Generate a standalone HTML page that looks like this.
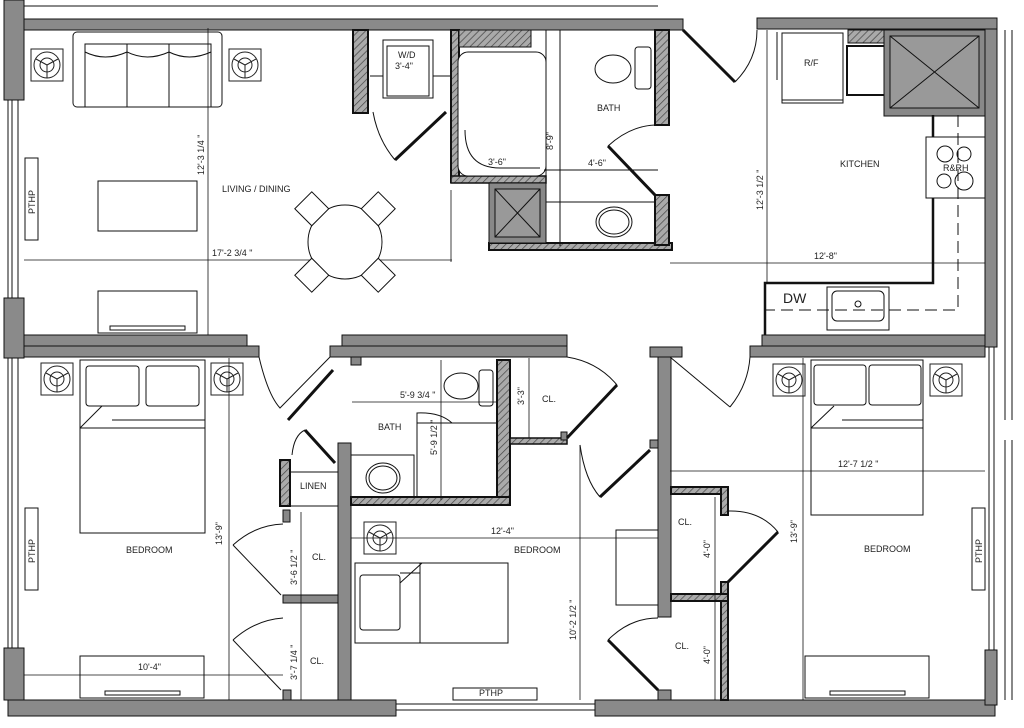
<!DOCTYPE html>
<html><head><meta charset="utf-8"><style>
html,body{margin:0;padding:0;background:#fff}
svg{display:block}
text{font-family:"Liberation Sans",sans-serif;font-size:9px;fill:#222}
</style></head><body>
<svg width="1024" height="728" viewBox="0 0 1024 728" xmlns="http://www.w3.org/2000/svg">
<defs>
<pattern id="h" width="5" height="5" patternUnits="userSpaceOnUse" patternTransform="rotate(45)">
<rect width="5" height="5" fill="#aaa"/><line x1="0" y1="0" x2="0" y2="5" stroke="#444" stroke-width="1.4"/></pattern>
<g id="ns"><rect x="-16" y="-16" width="32" height="32" fill="#fff" stroke="#222" stroke-width="1"/><circle r="13" fill="none" stroke="#222"/><circle r="7" fill="none" stroke="#222"/><path d="M0 0V13M0 0L-11 -6M0 0L11 -6" stroke="#222" fill="none"/></g>
</defs>
<g stroke="#111" stroke-width="1" fill="none">
<!-- thin lines above -->
<line x1="24" y1="6" x2="658" y2="6"/>
<!-- top walls -->
<rect x="24" y="19" width="659" height="11" fill="#8a8a8a"/>
<rect x="757" y="18" width="240" height="11" fill="#8a8a8a"/>
<!-- left wall -->
<rect x="4" y="0" width="20" height="100" fill="#8a8a8a"/>
<rect x="4" y="298" width="20" height="60" fill="#8a8a8a"/>
<line x1="8" y1="100" x2="8" y2="298"/><line x1="12" y1="100" x2="12" y2="298"/><line x1="18" y1="100" x2="18" y2="298"/>
<line x1="8" y1="358" x2="8" y2="648"/><line x1="12" y1="358" x2="12" y2="648"/><line x1="18" y1="358" x2="18" y2="648"/>
<rect x="4" y="648" width="20" height="52" fill="#8a8a8a"/>
<!-- bottom walls -->
<rect x="8" y="700" width="388" height="16" fill="#8a8a8a"/>
<rect x="595" y="700" width="400" height="16" fill="#8a8a8a"/>
<line x1="396" y1="704" x2="595" y2="704"/><line x1="396" y1="710" x2="595" y2="710"/>
<!-- right wall -->
<rect x="985" y="29" width="12" height="318" fill="#8a8a8a"/>
<rect x="985" y="650" width="12" height="55" fill="#8a8a8a"/>
<line x1="989" y1="347" x2="989" y2="650"/><line x1="994" y1="347" x2="994" y2="650"/>
<line x1="1005" y1="30" x2="1005" y2="420"/><line x1="1012" y1="30" x2="1012" y2="420"/>
<line x1="1005" y1="440" x2="1005" y2="700"/><line x1="1012" y1="440" x2="1012" y2="700"/>
<!-- middle horizontal walls -->
<rect x="24" y="335" width="223" height="11" fill="#8a8a8a"/>
<rect x="24" y="346" width="235" height="11" fill="#8a8a8a"/>
<rect x="342" y="335" width="225" height="11" fill="#8a8a8a"/>
<rect x="330" y="346" width="237" height="11" fill="#8a8a8a"/>
<rect x="762" y="335" width="223" height="11" fill="#8a8a8a"/>
<rect x="750" y="346" width="235" height="11" fill="#8a8a8a"/>
<rect x="650" y="347" width="32" height="10" fill="#8a8a8a"/>
<!-- vertical interior walls -->
<rect x="338" y="443" width="13" height="257" fill="#8a8a8a"/>
<rect x="658" y="357" width="13" height="260" fill="#8a8a8a"/>
<rect x="658" y="690" width="13" height="10" fill="#8a8a8a"/>
<!-- bath1 hatched walls -->
<rect x="353" y="30" width="15" height="83" fill="url(#h)" stroke-width="2"/>
<rect x="451" y="30" width="8" height="152" fill="url(#h)" stroke-width="2"/>
<rect x="459" y="30" width="72" height="17" fill="url(#h)"/>
<rect x="451" y="176" width="95" height="7" fill="url(#h)" stroke-width="1.5"/>
<rect x="489" y="243" width="183" height="7" fill="url(#h)" stroke-width="2"/>
<rect x="655" y="30" width="14" height="95" fill="url(#h)" stroke-width="2"/>
<rect x="655" y="195" width="14" height="50" fill="url(#h)" stroke-width="2"/>
<rect x="489" y="183" width="57" height="60" fill="#888"/><rect x="495" y="189" width="45" height="48" fill="#999"/>
<path d="M495 189L540 237M540 189L495 237"/>
<line x1="546" y1="30" x2="546" y2="243"/>
<rect x="458" y="52" width="88" height="124" rx="10" fill="#fff"/>
<path d="M465 130Q465 168 500 168H540" />
<ellipse cx="613" cy="69" rx="18" ry="14" fill="#fff"/><rect x="635" y="47" width="16" height="42" rx="3"/>
<ellipse cx="614" cy="222" rx="18" ry="15"/><ellipse cx="614" cy="222" rx="15" ry="12"/>
<line x1="546" y1="202" x2="655" y2="202"/>
<line x1="370" y1="76" x2="451" y2="76"/>
<rect x="383" y="40" width="50" height="58" fill="#fff"/><rect x="387" y="46" width="42" height="50"/>
<path d="M395 160L446 112" stroke-width="3"/><path d="M373 112Q378 140 395 160"/>
<path d="M608 146L655 195" stroke-width="3"/><path d="M608 146Q630 126 655 125"/>
<line x1="544" y1="170" x2="658" y2="170"/><line x1="560" y1="30" x2="560" y2="246"/>
<!-- living furniture -->
<use href="#ns" x="47" y="65"/><use href="#ns" x="245" y="65"/>
<rect x="73" y="32" width="149" height="75" rx="4" fill="#fff"/>
<rect x="85" y="44" width="126" height="63"/><line x1="127" y1="44" x2="127" y2="107"/><line x1="169" y1="44" x2="169" y2="107"/>
<path d="M85 52q20 10 42 0q20 10 42 0q20 10 42 0"/>
<rect x="98" y="181" width="99" height="50"/>
<rect x="98" y="291" width="99" height="42"/><rect x="110" y="326" width="75" height="4"/>
<rect x="25" y="158" width="13" height="82" fill="#fff"/>
<line x1="208" y1="28" x2="208" y2="335" stroke-width=".8"/>
<line x1="24" y1="260" x2="452" y2="260" stroke-width=".8"/>
<line x1="451" y1="190" x2="451" y2="262" stroke-width=".8"/>
<circle cx="345" cy="242" r="37" fill="#fff"/>
<g transform="translate(345,242)">
<rect x="-12" y="-12" width="24" height="24" transform="rotate(45) translate(-47,0)" fill="#fff"/>
<rect x="-12" y="-12" width="24" height="24" transform="rotate(135) translate(-47,0)" fill="#fff"/>
<rect x="-12" y="-12" width="24" height="24" transform="rotate(225) translate(-47,0)" fill="#fff"/>
<rect x="-12" y="-12" width="24" height="24" transform="rotate(315) translate(-47,0)" fill="#fff"/>
</g>
<!-- entry door -->
<path d="M683 30L735 82" stroke-width="3"/><path d="M735 82Q757 60 757 30"/>
<!-- kitchen -->
<rect x="782" y="33" width="61" height="70"/><line x1="782" y1="100" x2="843" y2="100"/><line x1="777" y1="32" x2="777" y2="80"/>
<rect x="848" y="30" width="37" height="13" fill="url(#h)"/><rect x="847" y="46" width="38" height="49" stroke-width="2"/>
<rect x="884" y="30" width="101" height="86" fill="#888"/><rect x="890" y="36" width="89" height="72" fill="#999"/>
<path d="M890 36L979 108M979 36L890 108"/>
<path d="M933 115V283H765V335" stroke-width="2.5"/>
<rect x="926" y="137" width="59" height="61" fill="#fff"/>
<circle cx="945" cy="154" r="8"/><circle cx="964" cy="154" r="7"/><circle cx="944" cy="181" r="7"/><circle cx="964" cy="181" r="9"/>
<path d="M958 115V310H765" stroke-dasharray="12 6"/>
<rect x="827" y="287" width="62" height="43"/><rect x="832" y="291" width="52" height="30" rx="5"/>
<circle cx="858" cy="304" r="3"/>
<line x1="767" y1="30" x2="767" y2="283" stroke-width=".8"/>
<line x1="670" y1="263" x2="985" y2="263" stroke-width=".8"/>
<!-- bedroom 1 -->
<use href="#ns" x="57" y="379"/><use href="#ns" x="227" y="379"/>
<rect x="80" y="360" width="125" height="173"/><line x1="80" y1="428" x2="205" y2="428"/>
<rect x="86" y="366" width="53" height="40" rx="3" fill="#fff"/><rect x="146" y="366" width="53" height="40" rx="3" fill="#fff"/>
<line x1="112" y1="420" x2="205" y2="420"/><path d="M80 428L102 406"/>
<rect x="80" y="656" width="124" height="42"/><rect x="105" y="691" width="75" height="4"/>
<rect x="25" y="508" width="13" height="82" fill="#fff"/>
<line x1="229" y1="358" x2="229" y2="700" stroke-width=".8"/>
<line x1="24" y1="675" x2="283" y2="675" stroke-width=".8"/>
<path d="M259 357Q268 395 280 408L330 357"/>
<path d="M288 420L333 370" stroke-width="3"/>
<path d="M305 430L335 463" stroke-width="3"/><path d="M292 455Q294 435 305 430"/>
<!-- closets -->
<rect x="280" y="460" width="10" height="46" fill="url(#h)" stroke-width="2"/>
<line x1="290" y1="472" x2="338" y2="472"/><line x1="290" y1="506" x2="338" y2="506"/>
<rect x="283" y="510" width="7" height="12" fill="#888"/>
<rect x="283" y="595" width="55" height="8" fill="#888"/>
<rect x="283" y="690" width="8" height="10" fill="#888"/>
<path d="M233 545L281 595"/><path d="M233 545Q255 525 283 524"/>
<path d="M233 640L281 690"/><path d="M233 640Q255 620 283 618"/>
<line x1="301" y1="512" x2="301" y2="700" stroke-width=".8"/>
<!-- bath 2 -->
<rect x="497" y="360" width="13" height="145" fill="url(#h)" stroke-width="2"/>
<rect x="351" y="497" width="159" height="8" fill="url(#h)" stroke-width="2"/>
<rect x="351" y="357" width="10" height="8" fill="#888"/>
<ellipse cx="461" cy="386" rx="17" ry="13"/><rect x="479" y="370" width="14" height="36" rx="3"/>
<rect x="351" y="455" width="63" height="42"/><ellipse cx="383" cy="478" rx="17" ry="15"/><ellipse cx="383" cy="478" rx="14" ry="12"/>
<rect x="417" y="423" width="80" height="74"/><path d="M417 458L417 413Q440 412 452 423"/>
<line x1="352" y1="402" x2="497" y2="402" stroke-width=".8"/><line x1="441" y1="360" x2="441" y2="500" stroke-width=".8"/>
<!-- closet upper middle -->
<line x1="529" y1="358" x2="529" y2="440" stroke-width=".8"/>
<path d="M510 438H557" stroke="#111" stroke-width="1"/><rect x="510" y="438" width="57" height="6" fill="url(#h)" stroke-width="1.5"/>
<rect x="561" y="432" width="6" height="8" fill="#888"/>
<path d="M567 438L617 385" stroke-width="3"/><path d="M567 357Q598 362 617 385"/>
<path d="M600 497L650 450" stroke-width="3"/><path d="M580 445Q585 480 600 497"/>
<rect x="650" y="440" width="8" height="8" fill="#888"/>
<path d="M670 357L730 407" /><path d="M730 407Q748 385 750 357"/>
<!-- bedroom 2 -->
<use href="#ns" x="380" y="538"/>
<line x1="351" y1="538" x2="658" y2="538" stroke-width=".8"/>
<rect x="355" y="563" width="153" height="80"/><rect x="360" y="575" width="40" height="55" rx="3" fill="#fff"/>
<line x1="400" y1="573" x2="420" y2="573"/><line x1="420" y1="563" x2="420" y2="643"/><path d="M400 583L422 563"/>
<rect x="616" y="530" width="42" height="75"/>
<rect x="453" y="688" width="84" height="12" fill="#fff"/>
<line x1="580" y1="445" x2="580" y2="700" stroke-width=".8"/>
<!-- closets right -->
<path d="M671 490H728V510" fill="none"/>
<rect x="671" y="487" width="57" height="7" fill="url(#h)" stroke-width="2"/>
<rect x="721" y="487" width="7" height="28" fill="url(#h)" stroke-width="2"/>
<rect x="721" y="582" width="7" height="118" fill="url(#h)" stroke-width="2"/>
<rect x="671" y="594" width="57" height="7" fill="url(#h)" stroke-width="2"/>
<path d="M728 582L778 532" stroke-width="3"/><path d="M728 511Q760 510 778 532"/>
<path d="M658 690L608 640" stroke-width="3"/><path d="M608 640Q630 618 658 618"/>
<line x1="715" y1="497" x2="715" y2="700" stroke-width=".8"/>
<!-- bedroom 3 -->
<use href="#ns" x="789" y="380"/><use href="#ns" x="946" y="380"/>
<rect x="811" y="360" width="112" height="155"/><line x1="811" y1="428" x2="923" y2="428"/>
<rect x="814" y="365" width="52" height="40" rx="3" fill="#fff"/><rect x="869" y="365" width="52" height="40" rx="3" fill="#fff"/>
<line x1="842" y1="420" x2="923" y2="420"/><path d="M811 428L834 406"/>
<line x1="670" y1="471" x2="985" y2="471" stroke-width=".8"/>
<line x1="803" y1="358" x2="803" y2="700" stroke-width=".8"/>
<rect x="972" y="508" width="13" height="82" fill="#fff"/>
<rect x="805" y="656" width="124" height="42"/><rect x="830" y="691" width="75" height="4"/>
</g>
<!-- labels -->
<text x="222" y="192">LIVING / DINING</text>
<text x="204" y="175" transform="rotate(-90 204 175)">12'-3 1/4 "</text>
<text x="212" y="256">17'-2 3/4 "</text>
<text x="398" y="58">W/D</text><text x="395" y="69">3'-4"</text>
<text x="488" y="165">3'-6"</text>
<text x="597" y="111">BATH</text>
<text x="553" y="150" transform="rotate(-90 553 150)">8'-9"</text>
<text x="588" y="166">4'-6"</text>
<text x="804" y="66">R/F</text>
<text x="840" y="167">KITCHEN</text>
<text x="943" y="171">R&amp;RH</text>
<text x="763" y="210" transform="rotate(-90 763 210)">12'-3 1/2 "</text>
<text x="814" y="259">12'-8"</text>
<text x="783" y="303" style="font-size:14px">DW</text>
<text x="35" y="214" transform="rotate(-90 35 214)">PTHP</text>
<text x="126" y="553">BEDROOM</text>
<text x="222" y="545" transform="rotate(-90 222 545)">13'-9"</text>
<text x="138" y="670">10'-4"</text>
<text x="35" y="563" transform="rotate(-90 35 563)">PTHP</text>
<text x="300" y="489">LINEN</text>
<text x="312" y="560">CL.</text>
<text x="310" y="664">CL.</text>
<text x="297" y="585" transform="rotate(-90 297 585)">3'-6 1/2 "</text>
<text x="297" y="680" transform="rotate(-90 297 680)">3'-7 1/4 "</text>
<text x="378" y="430">BATH</text>
<text x="400" y="398">5'-9 3/4 "</text>
<text x="437" y="455" transform="rotate(-90 437 455)">5'-9 1/2 "</text>
<text x="542" y="402">CL.</text>
<text x="524" y="405" transform="rotate(-90 524 405)">3'-3"</text>
<text x="491" y="534">12'-4"</text>
<text x="514" y="553">BEDROOM</text>
<text x="576" y="640" transform="rotate(-90 576 640)">10'-2 1/2 "</text>
<text x="479" y="696">PTHP</text>
<text x="678" y="525">CL.</text>
<text x="710" y="558" transform="rotate(-90 710 558)">4'-0"</text>
<text x="675" y="649">CL.</text>
<text x="710" y="664" transform="rotate(-90 710 664)">4'-0"</text>
<text x="838" y="467">12'-7 1/2 "</text>
<text x="797" y="543" transform="rotate(-90 797 543)">13'-9"</text>
<text x="864" y="552">BEDROOM</text>
<text x="982" y="563" transform="rotate(-90 982 563)">PTHP</text>
</svg>
</body></html>
